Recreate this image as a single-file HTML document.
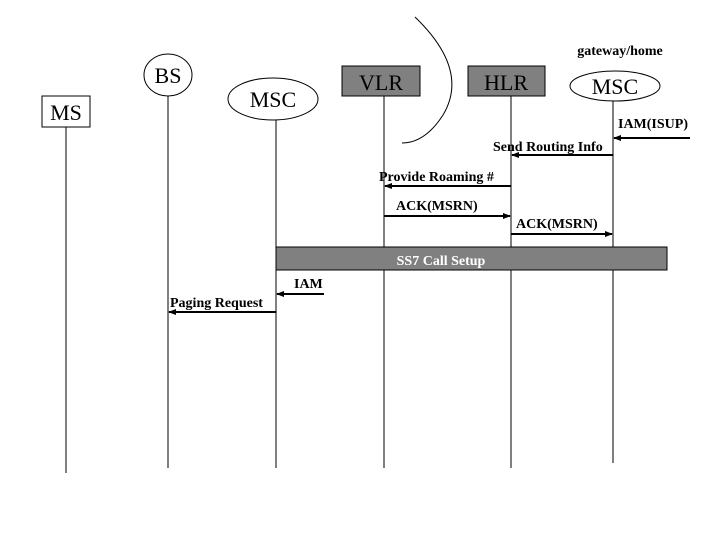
<!DOCTYPE html>
<html><head><style>body{margin:0;background:#fff}svg{display:block}</style></head><body>
<svg width="720" height="540" viewBox="0 0 720 540" xmlns="http://www.w3.org/2000/svg" font-family="Liberation Serif, serif">
<defs><marker id="a" markerWidth="8" markerHeight="6" refX="7" refY="3" orient="auto" markerUnits="userSpaceOnUse"><path d="M0,0 L8,3 L0,6 z" fill="#000"/></marker></defs>
<g stroke="#000" stroke-width="1" fill="none">
<line x1="66" y1="127" x2="66" y2="473"/>
<line x1="168" y1="96" x2="168" y2="468"/>
<line x1="276" y1="120" x2="276" y2="468"/>
<line x1="384" y1="96" x2="384" y2="468"/>
<line x1="511" y1="96" x2="511" y2="468"/>
<line x1="613" y1="101" x2="613" y2="463"/>
<path d="M415,17 Q470,70 443,115 Q425,143 402,143"/>
</g>
<rect x="42" y="96" width="48" height="31" fill="#fff" stroke="#000"/>
<text x="66" y="120" font-size="22" text-anchor="middle">MS</text>
<ellipse cx="168" cy="75" rx="24" ry="21" fill="#fff" stroke="#000"/>
<text x="168" y="83" font-size="22" text-anchor="middle">BS</text>
<ellipse cx="273" cy="99" rx="45" ry="21" fill="#fff" stroke="#000"/>
<text x="273" y="107" font-size="22" text-anchor="middle">MSC</text>
<rect x="342" y="66" width="78" height="30" fill="#808080" stroke="#000"/>
<text x="381" y="90" font-size="22" text-anchor="middle">VLR</text>
<rect x="468" y="66" width="77" height="30" fill="#808080" stroke="#000"/>
<text x="506" y="90" font-size="22" text-anchor="middle">HLR</text>
<ellipse cx="615" cy="86" rx="45" ry="15" fill="#fff" stroke="#000"/>
<text x="615" y="94" font-size="22" text-anchor="middle">MSC</text>
<text x="620" y="55" font-size="14" text-anchor="middle" font-weight="bold">gateway/home</text>
<g stroke="#000" stroke-width="2" marker-end="url(#a)">
<line x1="690" y1="138" x2="614" y2="138"/>
<line x1="613" y1="155" x2="512" y2="155"/>
<line x1="511" y1="186" x2="385" y2="186"/>
<line x1="384" y1="216" x2="510" y2="216"/>
<line x1="511" y1="234" x2="612" y2="234"/>
<line x1="324" y1="294" x2="277" y2="294"/>
<line x1="276" y1="312" x2="169" y2="312"/>
</g>
<g font-size="14" font-weight="bold">
<text x="618" y="128">IAM(ISUP)</text>
<text x="493" y="151">Send Routing Info</text>
<text x="379" y="181">Provide Roaming #</text>
<text x="396" y="210">ACK(MSRN)</text>
<text x="516" y="228">ACK(MSRN)</text>
<text x="294" y="288">IAM</text>
<text x="170" y="307">Paging Request</text>
</g>
<rect x="276" y="247" width="391" height="23" fill="#808080" stroke="#000"/>
<text x="441" y="265" font-size="14" font-weight="bold" fill="#fff" text-anchor="middle">SS7 Call Setup</text>
</svg>
</body></html>
